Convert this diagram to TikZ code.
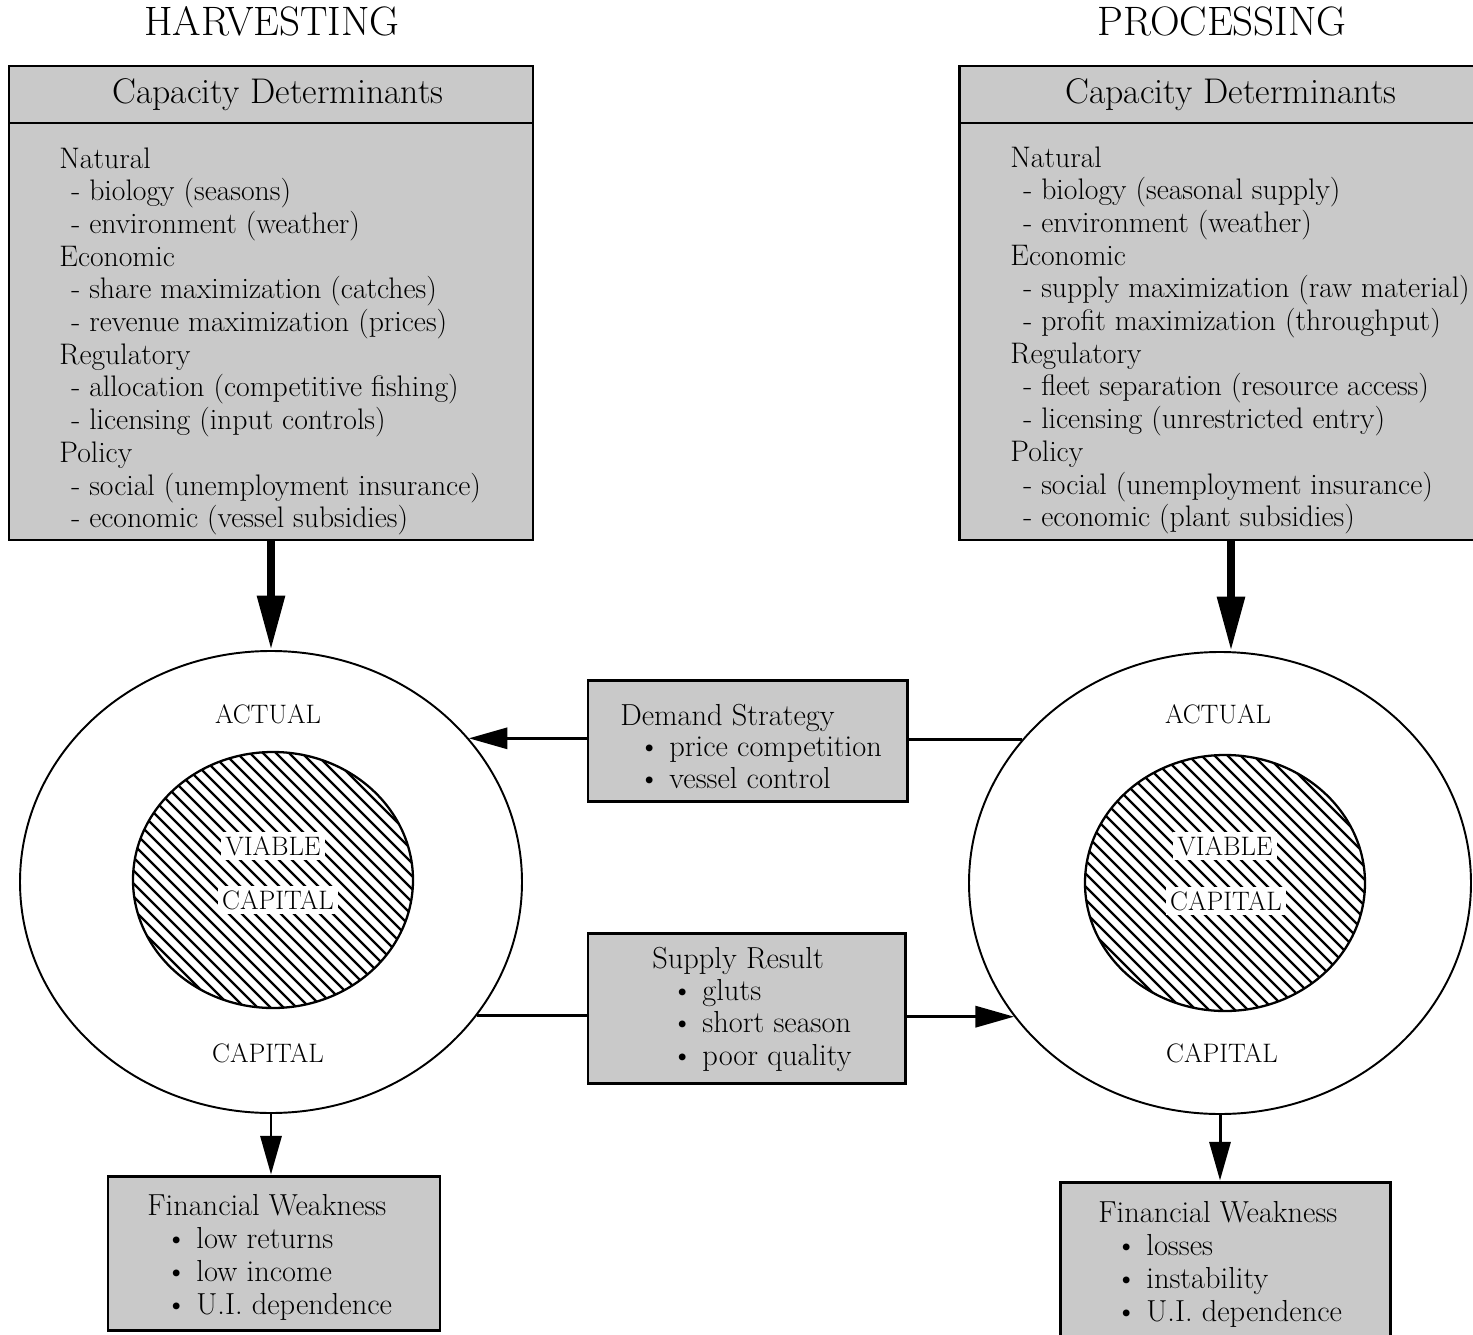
\documentclass[tikz,border=0pt]{standalone}
\usetikzlibrary{arrows.meta,shapes.geometric}
\definecolor{boxgray}{gray}{0.79}

\begin{document}
\begin{tikzpicture}[
	box/.style={draw, line width=1.7pt, fill=boxgray, rectangle, inner sep=0pt},
	txt/.style={anchor=base west, inner sep=0pt, font=\fontsize{16.9}{18.5}\selectfont},
	smalltxt/.style={txt, font=\fontsize{17.3}{18.5}\selectfont},
	boxhead/.style={inner sep=0pt, font=\fontsize{20.3}{24}\selectfont},
	coltitle/.style={anchor=base, inner sep=0pt, font=\fontsize{23.4}{28}\selectfont},
	lbl/.style={inner sep=0pt, font=\fontsize{15.2}{18}\selectfont},
	lblbox/.style={lbl, fill=white, inner sep=2.5pt},
	ring/.style={draw, ellipse, line width=1.1pt, minimum width=10.04cm, minimum height=9.24cm, inner sep=0pt},
	core/.style={draw, ellipse, line width=1.3pt, minimum width=5.6cm, minimum height=5.12cm, inner sep=0pt},
	hatch/.style={line width=1.4pt},
	fat/.style={line width=4.5pt, -{Triangle[length=31pt,width=15pt]}},
	conn/.style={line width=1.7pt},
	connarrow/.style={conn, -{Triangle[length=22pt,width=12pt]}}
]
	\useasboundingbox (0,0) rectangle (29.46,-26.70);
	\clip (0,0) rectangle (29.46,-26.70);
	% column titles
	\node[coltitle] (htitle) at (5.44,-0.70) {HARVESTING};
	\node[coltitle] (ptitle) at (24.44,-0.70) {PROCESSING};
	% capacity determinants, harvesting
	\node[box, minimum width=10.48cm, minimum height=8.34cm] (hbody) at (5.42,-6.63) {};
	\node[box, minimum width=10.48cm, minimum height=1.14cm] (hhead) at (5.42,-1.89) {};
	\node[boxhead] (hhtext) at (5.56,-1.89) {Capacity Determinants};
	\foreach \ind/\txt [count=\i from 0] in {0/Natural, 1/{- biology (seasons)}, 1/{- environment (weather)},
		0/Economic, 1/{- share maximization (catches)}, 1/{- revenue maximization (prices)},
		0/Regulatory, 1/{- allocation (competitive fishing)}, 1/{- licensing (input controls)},
		0/Policy, 1/{- social (unemployment insurance)}, 1/{- economic (vessel subsidies)}}
		{ \node[txt] (hl\i) at ({1.18+0.24*\ind},{-3.36-0.654*\i}) {\txt}; }
	% capacity determinants, processing
	\node[box, minimum width=10.88cm, minimum height=8.34cm] (pbody) at (24.62,-6.63) {};
	\node[box, minimum width=10.88cm, minimum height=1.14cm] (phead) at (24.62,-1.89) {};
	\node[boxhead] (phtext) at (24.62,-1.89) {Capacity Determinants};
	\foreach \ind/\txt [count=\i from 0] in {0/Natural, 1/{- biology (seasonal supply)}, 1/{- environment (weather)},
		0/Economic, 1/{- supply maximization (raw material)}, 1/{- profit maximization (throughput)},
		0/Regulatory, 1/{- fleet separation (resource access)}, 1/{- licensing (unrestricted entry)},
		0/Policy, 1/{- social (unemployment insurance)}, 1/{- economic (plant subsidies)}}
		{ \node[txt] (pl\i) at ({20.20+0.26*\ind},{-3.34-0.654*\i}) {\txt}; }
	% capital circles
	\node[ring] (hcirc) at (5.42,-17.64) {};
	\node[ring] (pcirc) at (24.40,-17.66) {};
	\node[core] (hcore) at (5.46,-17.60) {};
	\node[core] (pcore) at (24.50,-17.66) {};
	\begin{scope}
		\clip (hcore.center) ellipse (2.8 and 2.56);
		\foreach \k in {-22,...,22} { \draw[hatch] ([shift={({\k*0.26-3},3)}]hcore.center) -- ++(6,-6); }
	\end{scope}
	\begin{scope}
		\clip (pcore.center) ellipse (2.8 and 2.56);
		\foreach \k in {-22,...,22} { \draw[hatch] ([shift={({\k*0.26-3},3)}]pcore.center) -- ++(6,-6); }
	\end{scope}
	\node[lbl] (hact) at (5.36,-14.28) {ACTUAL};
	\node[lbl] (hcap) at (5.36,-21.06) {CAPITAL};
	\node[lblbox] (hvia) at (5.46,-16.92) {VIABLE};
	\node[lblbox] (hvcap) at (5.56,-18.00) {CAPITAL};
	\node[lbl] (pact) at (24.36,-14.28) {ACTUAL};
	\node[lbl] (pcap) at (24.44,-21.06) {CAPITAL};
	\node[lblbox] (pvia) at (24.50,-16.92) {VIABLE};
	\node[lblbox] (pvcap) at (24.52,-18.02) {CAPITAL};
	% demand strategy and supply result
	\node[box, minimum width=6.38cm, minimum height=2.42cm] (demand) at (14.95,-14.82) {};
	\node[smalltxt] (dtitle) at (12.40,-14.50) {Demand Strategy};
	\foreach \t [count=\i] in {price competition, vessel control}
		{ \node[smalltxt] (d\i) at (12.76,{-14.50-0.63*\i}) {\textbullet\ \t}; }
	\node[box, minimum width=6.34cm, minimum height=3.00cm] (supply) at (14.93,-20.16) {};
	\node[smalltxt] (stitle) at (13.04,-19.36) {Supply Result};
	\foreach \t [count=\i] in {gluts, short season, poor quality}
		{ \node[smalltxt] (s\i) at (13.42,{-19.36-0.647*\i}) {\textbullet\ \t}; }
	% financial weakness
	\node[box, minimum width=6.64cm, minimum height=3.08cm] (hfin) at (5.48,-25.06) {};
	\node[smalltxt] (hftitle) at (2.94,-24.30) {Financial Weakness};
	\foreach \t [count=\i] in {low returns, low income, U.I. dependence}
		{ \node[smalltxt] (hf\i) at (3.30,{-24.30-0.66*\i}) {\textbullet\ \t}; }
	\node[box, minimum width=6.60cm, minimum height=3.20cm] (pfin) at (24.50,-25.24) {};
	\node[smalltxt] (pftitle) at (21.96,-24.44) {Financial Weakness};
	\foreach \t [count=\i] in {losses, instability, U.I. dependence}
		{ \node[smalltxt] (pf\i) at (22.30,{-24.44-0.66*\i}) {\textbullet\ \t}; }
	% connectors
	\draw[fat] (hbody.south) -- (hcirc.north);
	\draw[fat] (pbody.south) -- (pbody.south |- pcirc.north);
	\draw[connarrow] (demand.west |- hcirc.36) -- (hcirc.36);
	\draw[conn] (pcirc.144) -- (pcirc.144 -| demand.east);
	\draw[conn] (hcirc.327) -- (hcirc.327 -| supply.west);
	\draw[connarrow] (supply.east |- pcirc.213) -- (pcirc.213);
	\draw[connarrow] (hcirc.south) -- (hcirc.south |- hfin.north);
	\draw[connarrow] (pcirc.south) -- (pcirc.south |- pfin.north);
\end{tikzpicture}
\end{document}
